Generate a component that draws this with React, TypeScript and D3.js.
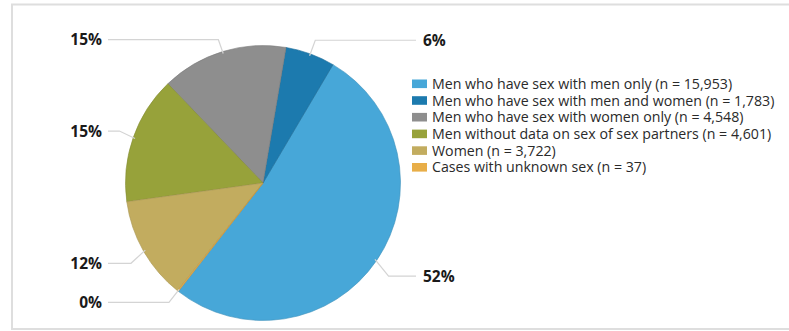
import React from "react";
import * as d3 from "d3";

const categories = [
  "Men who have sex with men only",
  "Men who have sex with men and women",
  "Men who have sex with women only",
  "Men without data on sex of sex partners",
  "Women",
  "Cases with unknown sex",
];
const counts = [15953, 1783, 4548, 4601, 3722, 37];
const colors = ["#47A7D8", "#1C7AAE", "#8E8E8E", "#97A23A", "#C2AC5F", "#E8AE48"];
// vertical nudges of the leader-line labels (layout only)
const labelNudge = [7.5, 0, 2, -2, 5, 0];

const W = 789;
const H = 331;
const cx = 263;
const cy = 183;
const R = 137.5;
const startDeg = 218;

export default function App() {
  const total = d3.sum(counts);
  const pie = d3
    .pie<number>()
    .sort(null)
    .value((d) => d)
    .startAngle((startDeg * Math.PI) / 180)
    .endAngle(((startDeg - 360) * Math.PI) / 180);
  const arcs = pie(counts);
  const arcGen = d3.arc<d3.PieArcDatum<number>>().innerRadius(0).outerRadius(R);
  const fmt = (v: number) => `${Math.round((v / total) * 100)}%`;
  const nfmt = d3.format(",");

  const legendX = 412;
  const legendY = 83.8;
  const legendStep = 16.7;

  return (
    <svg
      width={W}
      height={H}
      style={{ position: "absolute", left: 0, top: 0, background: "#fff" }}
      fontFamily="'Open Sans', sans-serif"
    >
      <rect x={12} y={4.5} width={800} height={324.5} fill="#fff" stroke="#dedede" strokeWidth={2} />
      <g transform={`translate(${cx},${cy})`}>
        {arcs.map((a, i) => (
          <path key={i} d={arcGen(a) || ""} fill={colors[i]} stroke={d3.color(colors[i])!.darker(0.4).toString()} strokeWidth={0.6} />
        ))}
      </g>
      {arcs.map((a, i) => {
        const mid = (a.startAngle + a.endAngle) / 2;
        const sx = Math.sin(mid);
        const sy = -Math.cos(mid);
        const p0 = [cx + sx * (R - 2), cy + sy * (R - 2)];
        const p1 = [cx + sx * 152, cy + sy * 152 + labelNudge[i]];
        const right = sx > 0;
        const lineEnd = right ? 416 : 108;
        const textX = right ? 423 : 102;
        return (
          <g key={i}>
            <polyline
              points={`${p0[0]},${p0[1]} ${p1[0]},${p1[1]} ${lineEnd},${p1[1]}`}
              fill="none"
              stroke="#d4d4d4"
              strokeWidth={1.2}
            />
            <text
              x={textX}
              y={p1[1]}
              dy="0.36em"
              textAnchor={right ? "start" : "end"}
              fontSize={15.5}
              fontWeight="bold"
              fill="#1a1a1a"
            >
              {fmt(a.data)}
            </text>
          </g>
        );
      })}
      <g>
        {categories.map((c, i) => (
          <g key={c} transform={`translate(${legendX},${legendY + i * legendStep})`}>
            <rect x={0} y={-4.3} width={15} height={8.6} fill={colors[i]} />
            <text x={20} y={0} dy="0.36em" fontSize={14.2} fill="#2a2a2a">
              {`${c} (n = ${nfmt(counts[i])})`}
            </text>
          </g>
        ))}
      </g>
    </svg>
  );
}
